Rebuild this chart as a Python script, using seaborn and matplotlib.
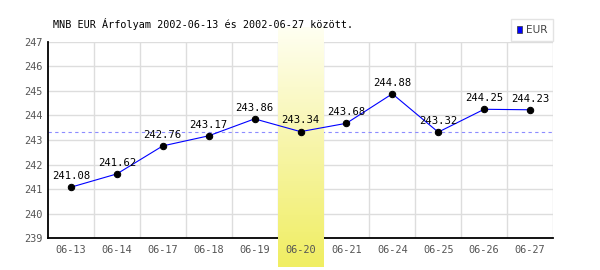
import numpy as np
import pandas as pd
import matplotlib
matplotlib.use("Agg")
import matplotlib.pyplot as plt
import seaborn as sns
from matplotlib.patches import Patch
from matplotlib.colors import LinearSegmentedColormap

dates = ["06-13", "06-14", "06-17", "06-18", "06-19", "06-20",
         "06-21", "06-24", "06-25", "06-26", "06-27"]
rates = [241.08, 241.62, 242.76, 243.17, 243.86, 243.34,
         243.68, 244.88, 243.32, 244.25, 244.23]
average = 243.34
highlight = "06-20"
y_ticks = [239, 240, 241, 242, 243, 244, 245, 246, 247]
title = "MNB EUR Árfolyam 2002-06-13 és 2002-06-27 között."
series_name = "EUR"

sns.set_style("white")
plt.rcParams['font.family'] = ['DejaVu Sans Mono', 'DejaVu Sans']

W, H = 600, 270
fig = plt.figure(figsize=(W / 100, H / 100), dpi=100)
left, right, top, bottom = 48, 553, 41.7, 238.3
ax = fig.add_axes([left / W, (H - bottom) / H, (right - left) / W, (bottom - top) / H])
ax.set_facecolor("white")
ax.set_axisbelow(False)

df = pd.DataFrame({"pos": np.arange(len(dates)), "rate": rates})
sns.lineplot(data=df, x="pos", y="rate", ax=ax, color="#0000ff", lw=0.8,
             marker="o", markersize=4.6, markerfacecolor="black",
             markeredgecolor="black", zorder=3)

ax.set_xlim(-0.5, len(dates) - 0.5)
ax.set_ylim(y_ticks[0], y_ticks[-1])

# grid lines
grid_c = "#dddddd"
for yv in y_ticks:
    ax.axhline(yv, color=grid_c, lw=1, zorder=0.3)
for k in range(len(dates)):
    ax.axvline(k + 0.5, color=grid_c, lw=1, zorder=0.3)

# average dashed line
ax.axhline(average, color="#8c8cff", lw=0.8, ls=(0, (3, 3)), zorder=0.6)

# highlight gradient band
hi = dates.index(highlight)
ppu = (bottom - top) / (y_ticks[-1] - y_ticks[0])
y_low = y_ticks[0] - (267 - bottom) / ppu
y_high = y_ticks[-1] + (top - 28) / ppu
cmap = LinearSegmentedColormap.from_list("hl", ["#fffff2", "#f7f5a8", "#f0ee62"])
grad = np.linspace(0, 1, 256).reshape(-1, 1)
ax.imshow(grad, cmap=cmap, aspect="auto", origin="upper",
          extent=[hi - 0.5, hi + 0.5, y_low, y_high],
          zorder=1, clip_on=False, interpolation="bilinear")
ax.set_xlim(-0.5, len(dates) - 0.5)
ax.set_ylim(y_ticks[0], y_ticks[-1])

# value labels
for i, v in enumerate(rates):
    ax.annotate(f"{v:.2f}", (i, v), xytext=(0, 4.5), textcoords="offset points",
                ha="center", va="bottom", fontsize=7.6, color="black", zorder=4)

# spines
for s in ["top", "right"]:
    ax.spines[s].set_visible(False)
for s in ["left", "bottom"]:
    ax.spines[s].set_color("black")
    ax.spines[s].set_linewidth(1.3)
ax.spines["bottom"].set_zorder(0.8)

ax.set_xticks(range(len(dates)))
ax.set_xticklabels(dates)
ax.set_yticks(y_ticks)
ax.set_yticklabels([str(t) for t in y_ticks])
ax.tick_params(axis="both", length=0, labelsize=7.4, labelcolor="#555555")
ax.tick_params(axis="x", pad=4.5)
ax.tick_params(axis="y", pad=4)
ax.set_xlabel("")
ax.set_ylabel("")

fig.text(53 / W, 1 - 24 / H, title, ha="left", va="center", fontsize=7.3, color="black")

leg = ax.legend(handles=[Patch(facecolor="#0000ff", edgecolor="#333333", lw=0.5, label=series_name)],
                loc="lower right", bbox_to_anchor=(right / W, 1 - 41 / H),
                bbox_transform=fig.transFigure, frameon=True, fancybox=False,
                prop={"family": "DejaVu Sans", "size": 7.6}, handlelength=0.55,
                handleheight=0.55, handletextpad=0.3, borderpad=0.55, borderaxespad=0)
leg.get_frame().set_edgecolor("#dddddd")
leg.get_frame().set_linewidth(1)
for t in leg.get_texts():
    t.set_color("#444444")

fig.savefig("out.png", dpi=100, facecolor="white")
